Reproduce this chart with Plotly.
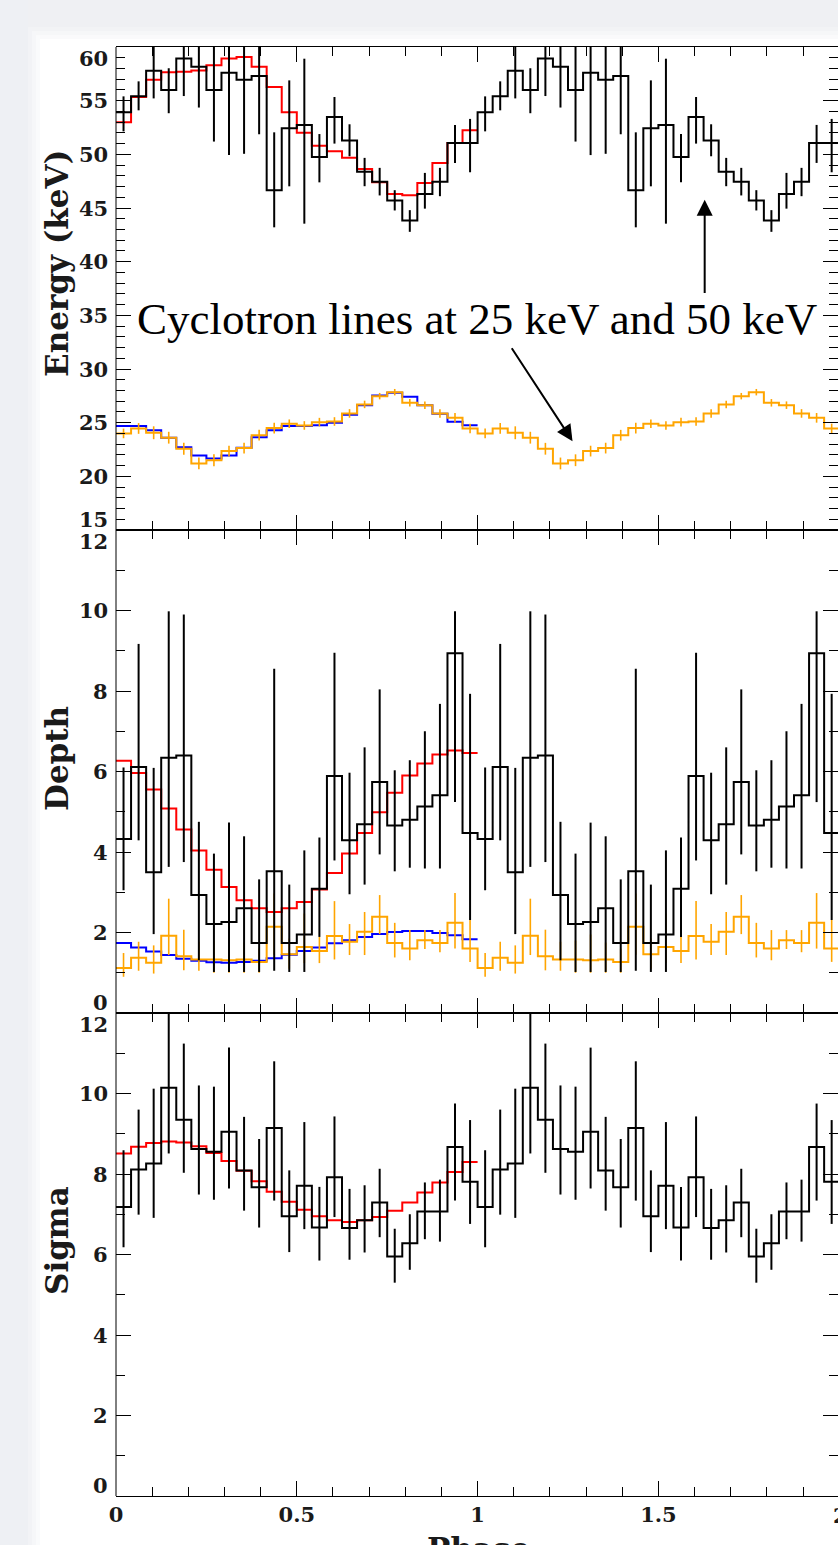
import plotly.graph_objects as go
from plotly.subplots import make_subplots

# ---------------- data (24 phase bins per cycle, shown twice) ----------------
N_BINS = 24

# Energy panel: ~50 keV line (black = measured, red = model)
e50_obs = [53.91, 55.40, 57.79, 56.00, 58.93, 58.15, 56.00, 57.60, 56.95, 57.30,
           46.65, 52.42, 52.73, 49.75, 53.48, 51.28, 48.37, 47.44, 45.70, 43.84,
           46.31, 47.44, 51.06, 51.06]
e50_up = [1.49, 1.40, 2.60, 2.02, 3.80, 3.80, 4.80, 7.70, 6.90, 5.40,
          5.40, 4.47, 6.18, 2.14, 1.86, 1.52, 1.30, 1.30, 0.96, 0.96,
          1.96, 1.30, 1.68, 2.24]
e50_dn = [1.77, 1.30, 2.58, 2.17, 3.50, 3.79, 4.81, 7.67, 6.90, 5.43,
          3.45, 5.40, 9.19, 2.36, 2.48, 1.46, 1.34, 1.27, 0.93, 1.06,
          1.37, 1.34, 1.86, 2.73]
e50_mod = [52.98, 55.34, 56.96, 57.64, 57.70, 57.82, 58.29, 58.94, 59.07, 58.17,
           56.27, 53.91, 52.02, 50.81, 50.28, 49.69, 48.64, 47.40, 46.31, 46.19,
           47.34, 49.20, 51.06, 52.24]
# Energy panel: ~25 keV line (orange = measured, blue = model)
e25_mod = [24.68, 24.68, 24.30, 23.59, 22.72, 21.95, 21.67, 21.95, 22.66, 23.65,
           24.30, 24.68, 24.68, 24.77, 24.99, 25.73, 26.63, 27.53, 27.78, 27.41,
           26.63, 25.83, 25.08, 24.77]
e25_obs = [24.00, 24.46, 24.06, 23.60, 22.57, 21.20, 21.50, 22.35, 22.63, 23.83,
           24.50, 24.90, 24.74, 25.05, 25.11, 25.86, 26.70, 27.47, 27.84, 26.85,
           26.63, 25.86, 25.45, 24.46]
e25_err = [0.45, 0.50, 0.60, 0.55, 0.55, 0.55, 0.55, 0.50, 0.50, 0.50,
           0.50, 0.40, 0.40, 0.40, 0.40, 0.40, 0.35, 0.30, 0.30, 0.35,
           0.35, 0.40, 0.45, 0.45]

# Depth panel
d50_obs = [4.32, 6.11, 3.50, 6.34, 6.40, 2.93, 2.21, 2.26, 2.60, 1.74,
           3.52, 1.74, 1.95, 3.09, 5.89, 4.29, 4.69, 5.74, 4.66, 4.80,
           5.13, 5.41, 8.94, 4.47]
d50_hi = [6.10, 9.17, 6.09, 9.98, 9.90, 4.75, 3.96, 4.73, 4.39, 3.32,
          8.55, 3.19, 4.04, 4.36, 8.95, 5.97, 6.60, 8.04, 6.03, 6.28,
          7.00, 7.68, 9.98, 7.93]
d50_lo = [3.05, 4.29, 1.96, 3.63, 3.75, 1.31, 1.02, 1.02, 1.02, 1.02,
          1.05, 1.02, 1.02, 1.89, 3.79, 2.95, 3.19, 3.94, 3.52, 3.61,
          3.59, 3.59, 5.24, 2.31]
d50_mod = [6.27, 5.96, 5.55, 5.08, 4.56, 4.04, 3.56, 3.13, 2.80, 2.60,
           2.51, 2.60, 2.76, 3.07, 3.48, 3.96, 4.47, 4.99, 5.47, 5.90,
           6.20, 6.42, 6.52, 6.46]
d25_mod = [1.74, 1.63, 1.53, 1.44, 1.35, 1.30, 1.26, 1.25, 1.27, 1.30,
           1.36, 1.45, 1.54, 1.63, 1.73, 1.81, 1.89, 1.96, 2.01, 2.04,
           2.04, 1.99, 1.93, 1.83]
d25_obs = [1.12, 1.37, 1.25, 1.92, 1.41, 1.33, 1.33, 1.31, 1.33, 1.27,
           2.14, 1.46, 1.64, 1.54, 1.91, 1.77, 2.02, 2.39, 1.74, 1.60,
           1.81, 1.74, 2.24, 1.60]
d25_hi = [1.49, 1.77, 1.68, 2.84, 2.07, 1.77, 1.80, 1.95, 1.75, 1.60,
          2.97, 1.85, 2.47, 1.89, 2.78, 2.21, 2.51, 2.93, 2.24, 2.06,
          2.06, 2.06, 2.98, 2.31]
d25_lo = [0.90, 1.05, 0.98, 1.44, 1.06, 1.05, 1.00, 1.00, 1.00, 1.00,
          1.45, 1.10, 1.24, 1.24, 1.33, 1.44, 1.44, 1.96, 1.38, 1.31,
          1.59, 1.51, 1.60, 1.27]

# Sigma panel
s50_obs = [7.18, 8.11, 8.26, 10.14, 9.35, 8.62, 8.55, 9.05, 8.09, 7.67,
           9.14, 6.95, 7.71, 6.67, 7.92, 6.66, 6.85, 7.29, 5.95, 6.28,
           7.07, 7.07, 8.67, 7.81]
s50_hi = [8.59, 9.60, 10.12, 12.30, 11.24, 10.20, 10.17, 11.14, 9.42, 8.87,
          10.80, 8.09, 9.29, 7.68, 9.43, 7.63, 7.72, 8.13, 6.64, 7.00,
          7.79, 7.86, 9.75, 9.34]
s50_lo = [6.18, 6.99, 6.91, 8.51, 8.03, 7.49, 7.36, 7.64, 7.09, 6.67,
          7.34, 6.06, 6.63, 5.85, 6.93, 5.87, 6.05, 6.43, 5.30, 5.62,
          6.38, 6.32, 7.34, 6.76]
s50_mod = [8.51, 8.68, 8.77, 8.81, 8.78, 8.69, 8.52, 8.32, 8.08, 7.82,
           7.56, 7.31, 7.11, 6.95, 6.85, 6.81, 6.85, 6.93, 7.09, 7.29,
           7.54, 7.79, 8.05, 8.30]

x_tickvals = [0, 0.5, 1, 1.5]
x_ticktext = ["0", "0.5", "1", "1.5"]
e_ticks = [15, 20, 25, 30, 35, 40, 45, 50, 55, 60]
d_ticks = [0, 2, 4, 6, 8, 10, 12]
s_ticks = [0, 2, 4, 6, 8, 10, 12]

annotation_text = "Cyclotron lines at 25 keV and 50 keV"

# ---------------- layout geometry ----------------
W, H = 838, 1545
ML, MR, MT, MB = 116, 0, 47, 49
PW = W - ML - MR
PH = H - MT - MB
PX_PER_PHASE = 361.6
X_MAX = PW / PX_PER_PHASE

BLACK = "#000000"
RED = "#ff0000"
BLUE = "#0000ff"
ORANGE = "#ffa500"
TXT = "#1a1a1a"
SERIF_B = "DejaVu Serif"


def px2paper_x(px):
    return (px - ML) / PW


def px2paper_y(py):
    return (H - MB - py) / PH


fig = make_subplots(rows=3, cols=1, shared_xaxes=True, vertical_spacing=0)


def step(vals, color, width, row):
    xs = [i / N_BINS for i in range(len(vals) + 1)]
    ys = list(vals) + [vals[-1]]
    fig.add_trace(go.Scatter(x=xs, y=ys, mode="lines",
                             line=dict(color=color, width=width, shape="hv"),
                             hoverinfo="skip", showlegend=False), row=row, col=1)


def errs(vals, up, dn, color, thick, row):
    xs = [(i + 0.5) / N_BINS for i in range(len(vals))]
    fig.add_trace(go.Scatter(x=xs, y=vals, mode="markers",
                             marker=dict(size=1, color=color, opacity=0),
                             error_y=dict(type="data", symmetric=False, array=up,
                                          arrayminus=dn, width=0, thickness=thick,
                                          color=color),
                             hoverinfo="skip", showlegend=False), row=row, col=1)


# Energy panel
step(e25_mod, BLUE, 2, 1)
errs(e25_obs * 2, e25_err * 2, e25_err * 2, ORANGE, 1.6, 1)
step(e25_obs * 2, ORANGE, 2, 1)
step(e50_mod, RED, 2, 1)
errs(e50_obs * 2, e50_up * 2, e50_dn * 2, BLACK, 2, 1)
step(e50_obs * 2, BLACK, 2, 1)

# Depth panel
step(d25_mod, BLUE, 2, 2)
errs(d25_obs * 2, [h - v for h, v in zip(d25_hi, d25_obs)] * 2,
     [v - l for l, v in zip(d25_lo, d25_obs)] * 2, ORANGE, 1.6, 2)
step(d25_obs * 2, ORANGE, 2, 2)
step(d50_mod, RED, 2, 2)
errs(d50_obs * 2, [h - v for h, v in zip(d50_hi, d50_obs)] * 2,
     [v - l for l, v in zip(d50_lo, d50_obs)] * 2, BLACK, 2, 2)
step(d50_obs * 2, BLACK, 2, 2)

# Sigma panel
step(s50_mod, RED, 2, 3)
errs(s50_obs * 2, [h - v for h, v in zip(s50_hi, s50_obs)] * 2,
     [v - l for l, v in zip(s50_lo, s50_obs)] * 2, BLACK, 2, 3)
step(s50_obs * 2, BLACK, 2, 3)

tickfont = dict(family=SERIF_B, size=21, color=TXT, weight="bold")

fig.update_xaxes(range=[0, X_MAX], tickmode="array", tickvals=x_tickvals,
                 ticktext=x_ticktext, ticks="inside", ticklen=15, tickwidth=1,
                 tickcolor=BLACK, showline=True, linecolor=BLACK, linewidth=1,
                 mirror="ticks", showgrid=False, zeroline=False,
                 minor=dict(dtick=0.1, tick0=0, ticks="inside", ticklen=9,
                            tickwidth=1, tickcolor=BLACK, showgrid=False),
                 tickfont=tickfont)
fig.update_xaxes(showticklabels=False, row=1, col=1)
fig.update_xaxes(showticklabels=False, row=2, col=1)
fig.update_xaxes(showticklabels=True, ticklabelstandoff=0, row=3, col=1)

for row, ticks in ((1, e_ticks), (2, d_ticks), (3, s_ticks)):
    fig.update_yaxes(range=[ticks[0], ticks[-1]], tickmode="array", tickvals=ticks,
                     ticks="inside", ticklen=15, tickwidth=1, tickcolor=BLACK,
                     showline=False, mirror="ticks", showgrid=False,
                     zeroline=False, showticklabels=False,
                     minor=dict(dtick=1, tick0=0, ticks="inside", ticklen=9,
                                tickwidth=1, tickcolor=BLACK, showgrid=False),
                     row=row, col=1)

annotations = []
shapes = []

# y tick labels (edge labels nudged inward, as in the original)
for row, ticks, yref in ((1, e_ticks, "y"), (2, d_ticks, "y2"), (3, s_ticks, "y3")):
    for k, t in enumerate(ticks):
        shift = 0
        if k == 0:
            shift = 10.5
        elif k == len(ticks) - 1:
            shift = -11
        annotations.append(dict(text=str(t), xref="paper", x=0, xanchor="right",
                                xshift=-8, yref=yref, y=t, yanchor="middle",
                                yshift=shift, showarrow=False, borderpad=0,
                                borderwidth=0, font=tickfont))

# truncated "2" label at right edge
annotations.append(dict(text="2", xref="paper", x=px2paper_x(840), xanchor="center",
                        yref="paper", y=px2paper_y(1515), yanchor="middle",
                        showarrow=False, font=tickfont))

# axis titles
title_font = dict(family=SERIF_B, size=31, color=TXT, weight="bold")
for text, py in (("Energy (keV)", 264), ("Depth", 759), ("Sigma", 1241)):
    annotations.append(dict(text=text, textangle=-90, xref="paper",
                            x=px2paper_x(57), xanchor="center", yref="paper",
                            y=px2paper_y(py), yanchor="middle", showarrow=False,
                            font=title_font))
annotations.append(dict(text="Phase", xref="paper", x=px2paper_x(478),
                        xanchor="center", yref="paper", y=px2paper_y(1549),
                        yanchor="middle", showarrow=False, font=title_font))

# main annotation text and arrows
annotations.append(dict(text=annotation_text, xref="x", x=0.997, xanchor="center",
                        yref="y", y=34.7, yanchor="middle", showarrow=False,
                        font=dict(family="Liberation Serif", size=45, color=BLACK)))
annotations.append(dict(text="", xref="x", yref="y", x=1.628, y=45.78,
                        axref="x", ayref="y", ax=1.628, ay=36.94, showarrow=True,
                        arrowhead=2, arrowsize=1.6, arrowwidth=2, arrowcolor=BLACK))
annotations.append(dict(text="", xref="x", yref="y", x=1.2625, y=23.28,
                        axref="x", ayref="y", ax=1.0918, ay=32.07, showarrow=True,
                        arrowhead=2, arrowsize=1.6, arrowwidth=2, arrowcolor=BLACK))

# left frame line (right frame lies just outside the visible window)
shapes.append(dict(type="line", xref="paper", yref="paper", x0=0, x1=0, y0=0, y1=1,
                   line=dict(color=BLACK, width=1)))

# light grey page border (top and left)
bands = [(0, 27, "#eff0f3"), (27, 31, "#f2f3f5"), (31, 35, "#f6f7f8"), (35, 39, "#fafafb")]
for a, b, c in reversed(bands):
    shapes.append(dict(type="rect", xref="paper", yref="paper", layer="below",
                       x0=px2paper_x(0), x1=px2paper_x(W), y0=px2paper_y(b),
                       y1=px2paper_y(a), line=dict(width=0), fillcolor=c))
lbands = [(0, 28, "#eef0f4"), (28, 32, "#f2f3f6"), (32, 36, "#f6f7f9"), (36, 40, "#fafbfc")]
for a, b, c in reversed(lbands):
    shapes.append(dict(type="rect", xref="paper", yref="paper", layer="below",
                       x0=px2paper_x(a), x1=px2paper_x(b), y0=px2paper_y(H),
                       y1=px2paper_y(a if a > 27 else 0), line=dict(width=0),
                       fillcolor=c))

fig.update_layout(width=W, height=H, margin=dict(l=ML, r=MR, t=MT, b=MB),
                  paper_bgcolor="white", plot_bgcolor="rgba(0,0,0,0)",
                  showlegend=False, annotations=annotations, shapes=shapes)

fig.write_html("out.html",
               config={"displayModeBar": False},
               post_script="document.body.style.margin='0';"
                           "document.body.style.overflow='hidden';")
